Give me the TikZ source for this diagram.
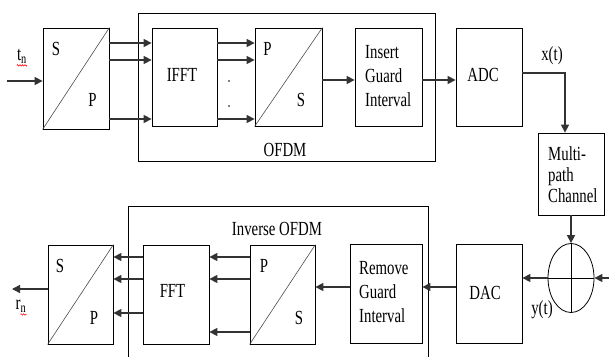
\documentclass[tikz,border=0pt]{standalone}
\usepackage{fontspec}
\setmainfont[FakeStretch=0.74]{Liberation Serif}
\usetikzlibrary{arrows.meta,shapes.geometric,decorations.pathmorphing}
\begin{document}
\begin{tikzpicture}[x=1pt,y=-1pt,
  bx/.style 2 args={draw,line width=0.8pt,inner sep=0pt,minimum width=#1,minimum height=#2},
  arr/.style={line width=1.4pt,draw=black!80,-{Triangle[length=8pt,width=8pt]}},
  ln/.style={line width=1.4pt,draw=black!80},
  txt/.style={inner sep=0pt,font=\fontsize{20}{24}\selectfont},
  diag/.style={line width=0.6pt,draw=black!70},
  dot/.style={circle,fill=black,inner sep=0pt,minimum size=1.6pt}]
\useasboundingbox (0,0) rectangle (609,356);
% ---- transmitter ----
\node[bx={297pt}{148pt}] (ofdm) at (286.5,87) {};
\node[bx={66pt}{101pt}] (sp1) at (76,78.5) {};
\node[bx={65pt}{98pt}] (ifft) at (184.5,77) {};
\node[bx={67pt}{98pt}] (ps1) at (288.5,77) {};
\node[bx={67pt}{98pt}] (ins) at (388.5,77) {};
\node[bx={66pt}{98pt}] (adc) at (489,77) {};
\node[bx={66pt}{82pt}] (mp) at (571,174) {};
\node[draw,line width=0.8pt,ellipse,inner sep=0pt,minimum width=46pt,minimum height=69pt] (sum) at (571,278) {};
% ---- receiver ----
\draw[line width=0.8pt] (128,362) -- (128,206) coordinate (iotl) -- (428,206) -- (428,362);
\node[bx={66pt}{99pt}] (dac) at (489,293.5) {};
\node[bx={72pt}{99pt}] (rem) at (386,293.5) {};
\node[bx={65pt}{99pt}] (ps2) at (282.5,294.5) {};
\node[bx={66pt}{99pt}] (fft) at (176,294.5) {};
\node[bx={65pt}{99pt}] (sp2) at (80.5,294.5) {};
% diagonals
\draw[diag] (sp1.south west) -- (sp1.north east);
\draw[diag] (ps1.south west) -- (ps1.north east);
\draw[diag] (sp2.south west) -- (sp2.north east);
\draw[diag] (ps2.south west) -- (ps2.north east);
% cross in summer
\draw[line width=0.8pt] (sum.north) -- (sum.south);
\draw[line width=0.8pt] (sum.west) -- (sum.east);
% texts
\node[txt] (s1) at (56,48.5) {S};
\node[txt] (p1) at (92.5,99.5) {P};
\node[txt] (p2) at (267.5,48.5) {P};
\node[txt] (s2) at (301,99.5) {S};
\node[txt] (s3) at (60,265.5) {S};
\node[txt] (p3) at (94,317.5) {P};
\node[txt] (p4) at (264,265.5) {P};
\node[txt] (s4) at (299,317.5) {S};
\node[txt] (tifft) at (182,75) {IFFT};
\node[txt] (tadc) at (483,74.5) {ADC};
\node[txt] (tfft) at (172.5,290.5) {FFT};
\node[txt] (tdac) at (485,292.5) {DAC};
\node[txt,align=left,anchor=west] (tins) at (365,76) {Insert\\Guard\\Interval};
\node[txt,align=left,anchor=west] (trem) at (359,292) {Remove\\Guard\\Interval};
\node[txt,align=left,anchor=west,font=\fontsize{20}{21}\selectfont] (tmp) at (548,175) {Multi-\\path\\Channel};
\node[txt] (tofdm) at (285,150) {OFDM};
\node[txt] (tiofdm) at (277,229) {Inverse OFDM};
\node[txt] (txt1) at (552,56) {x(t)};
\node[txt] (tyt) at (542,310) {y(t)};
\node[txt] (tn) at (22,56) {t\textsubscript{n}};
\node[txt] (rn) at (21,306) {r\textsubscript{n}};
\draw[red,line width=0.5pt,decorate,decoration={zigzag,amplitude=0.8pt,segment length=2.5pt}] ([yshift=-2pt]tn.south west) -- ([yshift=-2pt]tn.south east);
\draw[red,line width=0.5pt,decorate,decoration={zigzag,amplitude=0.8pt,segment length=2.5pt}] ([yshift=-2pt,xshift=5pt]rn.south west) -- ([yshift=-2pt]rn.south east);
% dots
\node[dot] (d1) at (229,81) {};
\node[dot] (d2) at (229,106) {};
% ---- connectors transmitter ----
\coordinate (in) at (7,81);
\draw[arr] (in) -- (sp1.west |- in);
\draw[arr] (sp1.east |- 0,43) -- (ifft.west |- 0,43);
\draw[arr] (sp1.east |- 0,60) -- (ifft.west |- 0,60);
\draw[arr] (sp1.east |- 0,119) -- (ifft.west |- 0,119);
\draw[arr] (ifft.east |- 0,43) -- (ps1.west |- 0,43);
\draw[arr] (ifft.east |- 0,60) -- (ps1.west |- 0,60);
\draw[arr] (ifft.east |- 0,119) -- (ps1.west |- 0,119);
\draw[arr] (ps1.east |- 0,80) -- (ins.west |- 0,80);
\draw[arr] (ins.east |- 0,80) -- (adc.west |- 0,80);
\coordinate (xt) at (565,73);
\draw[arr] (adc.east |- xt) -- (xt) -- (xt |- mp.north);
\draw[arr] (mp.south) -- (sum.north);
\coordinate (rin) at (611,278);
\draw[arr] (rin) -- (sum.east);
% ---- connectors receiver ----
\draw[arr] (sum.west) -- (dac.east |- sum.west);
\draw[arr] (dac.west |- 0,287) -- (rem.east |- 0,287);
\draw[arr] (rem.west |- 0,287) -- (ps2.east |- 0,287);
\draw[arr] (ps2.west |- 0,257) -- (fft.east |- 0,257);
\draw[arr] (ps2.west |- 0,279) -- (fft.east |- 0,279);
\draw[arr] (ps2.west |- 0,332) -- (fft.east |- 0,332);
\draw[arr] (fft.west |- 0,257) -- (sp2.east |- 0,257);
\draw[arr] (fft.west |- 0,279) -- (sp2.east |- 0,279);
\draw[arr] (fft.west |- 0,313) -- (sp2.east |- 0,313);
\coordinate (out) at (12,289);
\draw[arr] (sp2.west |- out) -- (out);
\end{tikzpicture}
\end{document}
